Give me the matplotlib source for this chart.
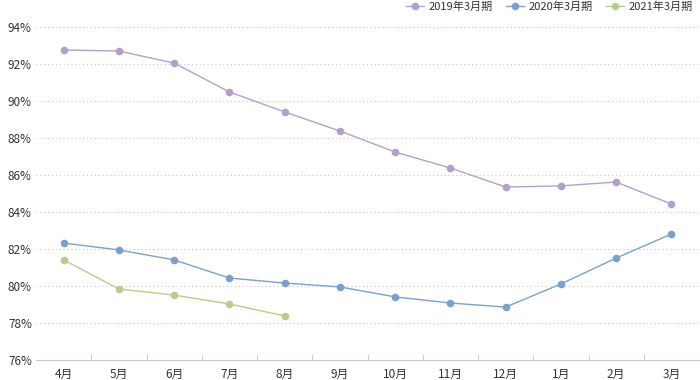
import numpy as np
import matplotlib
matplotlib.use('Agg')
import matplotlib.pyplot as plt
from matplotlib.ticker import FixedLocator, FuncFormatter

plt.rcParams['font.family'] = ['Noto Sans CJK JP', 'DejaVu Sans']

months = ['4月', '5月', '6月', '7月', '8月', '9月', '10月', '11月', '12月', '1月', '2月', '3月']
fy2019 = [92.76, 92.70, 92.05, 90.49, 89.41, 88.38, 87.24, 86.38, 85.35, 85.41, 85.62, 84.43]
fy2020 = [82.32, 81.95, 81.41, 80.43, 80.16, 79.95, 79.41, 79.08, 78.86, 80.11, 81.51, 82.81]
fy2021 = [81.41, 79.84, 79.51, 79.03, 78.38]
series_names = ['2019年3月期', '2020年3月期', '2021年3月期']
colors = ['#b49fcc', '#7ba0cf', '#b7cd8a']

fig = plt.figure(figsize=(7, 3.8), dpi=100)
ax = fig.add_axes([36 / 700, 1 - 360 / 380, 663 / 700, (360 - 27) / 380])

x = np.arange(len(months))
for vals, name, c in zip([fy2019, fy2020, fy2021], series_names, colors):
    ax.plot(x[:len(vals)], vals, color=c, lw=1.0, marker='o', ms=5.5,
            markeredgewidth=0, label=name, clip_on=False, zorder=3)

ax.set_xlim(-0.5, len(months) - 0.5)
ax.set_ylim(76, 94)
ax.set_yticks(np.arange(76, 95, 2))
ax.yaxis.set_major_formatter(FuncFormatter(lambda v, p: '%d%%' % v))
ax.grid(axis='y', color='#bbbbbb', linestyle=(0, (1, 3)), linewidth=0.7)
ax.set_axisbelow(True)

ax.set_xticks(x)
ax.set_xticklabels(months)
ax.xaxis.set_minor_locator(FixedLocator(np.arange(0.5, len(months) - 0.5, 1)))
ax.tick_params(axis='x', which='major', length=0, pad=6, labelsize=8.5, colors='#333333')
ax.tick_params(axis='x', which='minor', length=4, direction='in', color='#c8c8c8')
ax.tick_params(axis='y', length=0, pad=3, labelsize=8.5, colors='#333333')

for s in ['top', 'right', 'left']:
    ax.spines[s].set_visible(False)
ax.spines['bottom'].set_color('#c8c8c8')

fig.legend(loc='upper right', bbox_to_anchor=(0.997, 1.01), ncol=3, frameon=False,
           fontsize=8, handlelength=1.6, columnspacing=1.2, handletextpad=0.4,
           borderaxespad=0.1, labelcolor='#333333')

fig.savefig('out.png', dpi=100)
